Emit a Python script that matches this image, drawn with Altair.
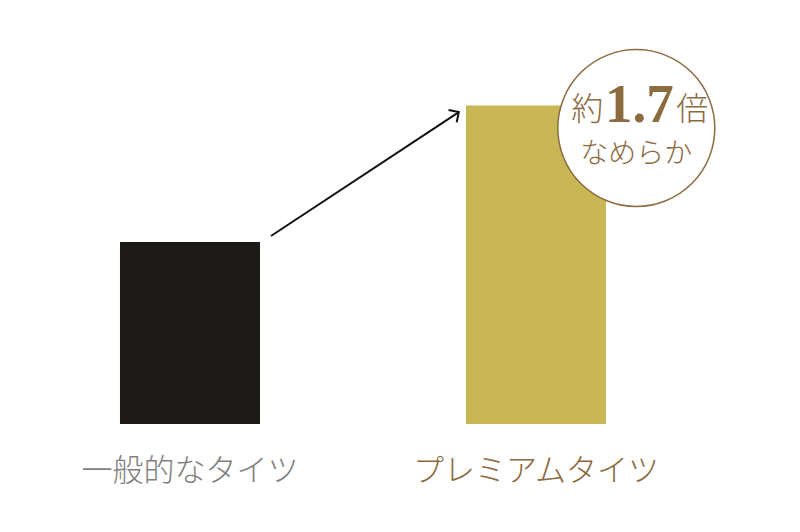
import altair as alt
import pandas as pd

# bars
categories = ["一般的なタイツ", "プレミアムタイツ"]
slots = [0, 1]
smoothness = [1.0, 1.75]
bar_colors = ["#1c1a17", "#c9b655"]
label_colors = ["#7f7f7f", "#8b6b3f"]

# arrow from the plain bar up to the premium bar
arrow_x = [0.234, 0.777]
arrow_y = [1.033, 1.714]

# badge
badge_x = 1.29
badge_y = 1.626
badge_big = "1.7"
badge_pre = "約"
badge_post = "倍"
badge_line2 = "なめらか"

brown = "#8b6b3f"

X_DOMAIN = [-0.526, 1.74]
Y_DOMAIN = [-0.5495, 2.2857]

bars_df = pd.DataFrame({"cat": categories, "slot": slots, "v": smoothness,
                        "color": bar_colors, "lcolor": label_colors,
                        "ly": [-0.264, -0.264]})
arrow_df = pd.DataFrame({"x": arrow_x, "y": arrow_y, "i": [0, 1]})
badge_df = pd.DataFrame({"x": [badge_x], "y": [badge_y]})

xs = alt.Scale(domain=X_DOMAIN, nice=False, zero=False, padding=0)
ys = alt.Scale(domain=Y_DOMAIN, nice=False, zero=False, padding=0)
noax = None

base = alt.Chart(bars_df)

bars = base.mark_bar(size=140).encode(
    x=alt.X("slot:Q", scale=xs, axis=noax),
    y=alt.Y("v:Q", scale=ys, axis=noax),
    y2=alt.datum(0),
    color=alt.Color("color:N", scale=None, legend=None),
)

labels = base.mark_text(font="Noto Sans CJK JP", fontSize=31, fontWeight=300,
                        baseline="middle").encode(
    x=alt.X("slot:Q", scale=xs, axis=noax),
    y=alt.Y("ly:Q", scale=ys, axis=noax),
    text="cat:N",
    color=alt.Color("lcolor:N", scale=None, legend=None),
)

arrow_line = alt.Chart(arrow_df).mark_line(color="#111111", strokeWidth=2).encode(
    x=alt.X("x:Q", scale=xs, axis=noax),
    y=alt.Y("y:Q", scale=ys, axis=noax),
    order="i:Q",
)

arrow_head = alt.Chart(arrow_df.tail(1)).mark_point(
    shape="M -1 -1 L 0 0 L -1 1", filled=False, size=220, angle=326.6,
    color="#111111", strokeWidth=2, opacity=1,
).encode(
    x=alt.X("x:Q", scale=xs, axis=noax),
    y=alt.Y("y:Q", scale=ys, axis=noax),
)

bbase = alt.Chart(badge_df).encode(
    x=alt.X("x:Q", scale=xs, axis=noax),
    y=alt.Y("y:Q", scale=ys, axis=noax),
)

circle = bbase.mark_point(shape="circle", filled=True, size=157 * 157,
                          fill="white", stroke=brown, strokeWidth=1.5, opacity=1)

big = bbase.mark_text(text=badge_big, font="Liberation Serif", fontWeight="bold",
                      fontSize=55, color=brown, baseline="alphabetic", dx=3, dy=-6)
pre = bbase.mark_text(text=badge_pre, font="Noto Sans CJK JP", fontWeight=300,
                      fontSize=32, color=brown, baseline="alphabetic",
                      align="right", dx=-33, dy=-8)
post = bbase.mark_text(text=badge_post, font="Noto Sans CJK JP", fontWeight=300,
                       fontSize=32, color=brown, baseline="alphabetic",
                       align="left", dx=40, dy=-8)
line2 = bbase.mark_text(text=badge_line2, font="Noto Sans CJK JP", fontWeight=300,
                        fontSize=28, color=brown, baseline="middle", dy=27)

chart = alt.layer(bars, labels, arrow_line, arrow_head, circle, big, pre, post, line2).properties(
    width=784, height=516, padding=0,
).configure_view(stroke=None)

chart.save("out.html", embed_options={"renderer": "svg", "actions": False})
